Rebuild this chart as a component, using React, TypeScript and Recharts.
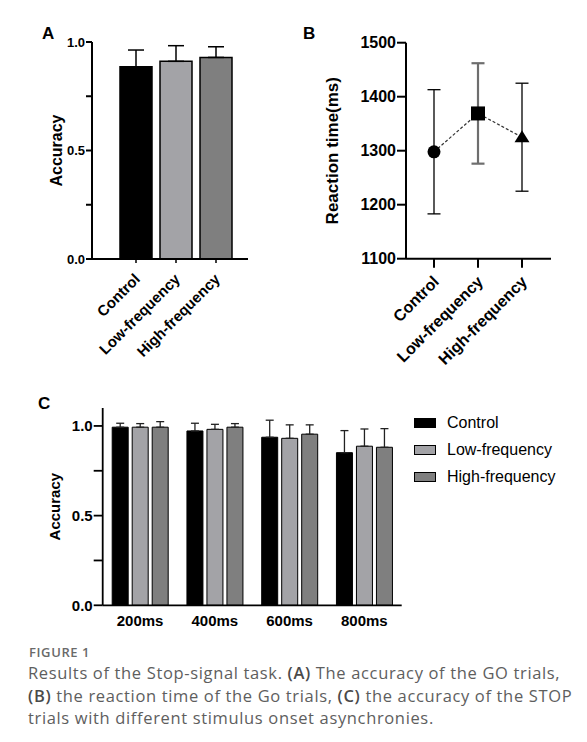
import React from 'react';
import { BarChart, Bar, Cell, XAxis, YAxis, ErrorBar, LineChart, Line } from 'recharts';

// panel A / B: GO trials
const groups = ['Control', 'Low-frequency', 'High-frequency'];
const groupColors = ['#000000', '#a3a3a7', '#7f7f7f'];
const goAccuracy = [0.886, 0.911, 0.929];
const goAccuracyErr = [0.077, 0.072, 0.049];
const goRt = [1298, 1369, 1325];
const goRtErr = [115, 93, 100];

// panel C: STOP trials by SOA
const soaLabels = ['200ms', '400ms', '600ms', '800ms'];
const stopControl = [0.993, 0.972, 0.937, 0.851];
const stopControlErr = [0.022, 0.043, 0.095, 0.123];
const stopLow = [0.993, 0.981, 0.931, 0.887];
const stopLowErr = [0.02, 0.028, 0.075, 0.096];
const stopHigh = [0.993, 0.993, 0.954, 0.881];
const stopHighErr = [0.031, 0.02, 0.052, 0.104];

const accTicks = [0, 0.25, 0.5, 0.75, 1];
const rtTicks = [1100, 1200, 1300, 1400, 1500];

const FONT = '"Liberation Sans", Arial, sans-serif';
const CAPTION_FONT = '"Open Sans", sans-serif';

const accFormat = (v: number) => (v === 0.25 || v === 0.75 ? '' : v.toFixed(1));

const SlantTick = (props: any) => {
  const { x, y, payload, size, ox, oy } = props;
  const ax = x + ox;
  const ay = y + oy;
  return (
    <text
      x={ax}
      y={ay}
      transform={`rotate(-45 ${ax} ${ay})`}
      textAnchor="end"
      fontFamily={FONT}
      fontWeight="bold"
      fontSize={size}
      fill="#000"
    >
      {payload.value}
    </text>
  );
};

const markerShapes = ['circle', 'square', 'triangle'];
const renderMarker = (p: any) => {
  const { cx, cy, index } = p;
  const shape = markerShapes[index];
  if (shape === 'circle') return <circle key={`m-${index}`} cx={cx} cy={cy} r={6.5} fill="#000" />;
  if (shape === 'square')
    return <rect key={`m-${index}`} x={cx - 7} y={cy - 7} width={14} height={14} fill="#000" />;
  return (
    <polygon
      key={`m-${index}`}
      points={`${cx},${cy - 7} ${cx + 7.5},${cy + 5} ${cx - 7.5},${cy + 5}`}
      fill="#000"
    />
  );
};

function PanelA() {
  const data = groups.map((g, i) => ({
    name: g,
    acc: goAccuracy[i],
    err: [0, goAccuracyErr[i]],
  }));
  return (
    <BarChart width={260} height={360} data={data} margin={{ top: 42, right: 12, bottom: 41, left: 0 }} barCategoryGap={4}>
      <XAxis
        dataKey="name"
        height={60}
        interval={0}
        padding={{ left: 24, right: 12 }}
        axisLine={{ stroke: '#000', strokeWidth: 2 }}
        tickLine={{ stroke: '#000', strokeWidth: 1.5 }}
        tickSize={4}
        tickMargin={0}
        tick={(p: any) => <SlantTick {...p} size={15} ox={5} oy={17} />}
      />
      <YAxis
        width={92}
        domain={[0, 1]}
        ticks={accTicks}
        tickFormatter={accFormat}
        axisLine={{ stroke: '#000', strokeWidth: 2 }}
        tickLine={{ stroke: '#000', strokeWidth: 2 }}
        tickSize={6}
        tickMargin={1}
        tick={{ fontSize: 13, fontWeight: 'bold', fill: '#000', fontFamily: FONT }}
        label={{ value: 'Accuracy', angle: -90, position: 'center', dx: 10, fontSize: 16, fontWeight: 'bold', fill: '#000', fontFamily: FONT }}
      />
      <Bar dataKey="acc" stroke="#000" strokeWidth={1.5} isAnimationActive={false}>
        {data.map((d, i) => (
          <Cell key={d.name} fill={groupColors[i]} />
        ))}
        <ErrorBar dataKey="err" direction="y" width={8} stroke="#000" strokeWidth={1.5} />
      </Bar>
    </BarChart>
  );
}

function PanelB() {
  const data = groups.map((g, i) => ({
    name: g,
    rt: goRt[i],
    errDark: i === 1 ? null : goRtErr[i],
    errGray: i === 1 ? goRtErr[i] : null,
  }));
  return (
    <LineChart width={270} height={380} data={data} margin={{ top: 42.7, right: 9, bottom: 51.3, left: 0 }}>
      <XAxis
        dataKey="name"
        height={70}
        interval={0}
        padding={{ left: 28, right: 29 }}
        axisLine={{ stroke: '#000', strokeWidth: 2 }}
        tickLine={{ stroke: '#000', strokeWidth: 2 }}
        tickSize={9}
        tickMargin={0}
        tick={(p: any) => <SlantTick {...p} size={16} ox={6} oy={15} />}
      />
      <YAxis
        width={116}
        domain={[1100, 1500]}
        ticks={rtTicks}
        axisLine={{ stroke: '#000', strokeWidth: 2 }}
        tickLine={{ stroke: '#000', strokeWidth: 2 }}
        tickSize={9}
        tickMargin={1}
        tick={{ fontSize: 16, fontWeight: 'bold', fill: '#000', fontFamily: FONT }}
        label={{ value: 'Reaction time(ms)', angle: -90, position: 'center', dx: -16, fontSize: 17, fontWeight: 'bold', fill: '#000', fontFamily: FONT }}
      />
      <Line dataKey="rt" stroke="none" dot={false} activeDot={false} isAnimationActive={false}>
        <ErrorBar dataKey="errGray" direction="y" width={6.5} stroke="#6e6e6e" strokeWidth={2.2} />
      </Line>
      <Line
        dataKey="rt"
        stroke="#333"
        strokeWidth={1.2}
        strokeDasharray="3 2"
        dot={renderMarker}
        activeDot={false}
        isAnimationActive={false}
      >
        <ErrorBar dataKey="errDark" direction="y" width={6.5} stroke="#000" strokeWidth={1.3} />
      </Line>
    </LineChart>
  );
}

const stopSeries = [
  { key: 'control', name: 'Control', values: stopControl, errs: stopControlErr, color: groupColors[0] },
  { key: 'low', name: 'Low-frequency', values: stopLow, errs: stopLowErr, color: groupColors[1] },
  { key: 'high', name: 'High-frequency', values: stopHigh, errs: stopHighErr, color: groupColors[2] },
];

function PanelC() {
  const data = soaLabels.map((s, i) => {
    const row: any = { name: s };
    stopSeries.forEach((ser) => {
      row[ser.key] = ser.values[i];
      row[ser.key + 'Err'] = [0, ser.errs[i]];
    });
    return row;
  });
  return (
    <BarChart width={410} height={260} data={data} margin={{ top: 28, right: 8.3, bottom: 4.7, left: 0 }} barCategoryGap={9.5} barGap={4}>
      <XAxis
        dataKey="name"
        height={30}
        interval={0}
        axisLine={{ stroke: '#000', strokeWidth: 1.8 }}
        tickLine={false}
        tickSize={0}
        tickMargin={10}
        tick={{ fontSize: 15, fontWeight: 'bold', fill: '#000', fontFamily: FONT }}
      />
      <YAxis
        width={102.7}
        domain={[0, 1.1]}
        ticks={accTicks}
        tickFormatter={accFormat}
        axisLine={{ stroke: '#000', strokeWidth: 1.8 }}
        tickLine={{ stroke: '#000', strokeWidth: 1.8 }}
        tickSize={9}
        tickMargin={1}
        tick={{ fontSize: 15, fontWeight: 'bold', fill: '#000', fontFamily: FONT }}
        label={{ value: 'Accuracy', angle: -90, position: 'center', dx: 3.5, fontSize: 15, fontWeight: 'bold', fill: '#000', fontFamily: FONT }}
      />
      {stopSeries.map((ser) => (
        <Bar key={ser.key} dataKey={ser.key} name={ser.name} fill={ser.color} stroke="#000" strokeWidth={1} isAnimationActive={false}>
          <ErrorBar dataKey={ser.key + 'Err'} direction="y" width={4} stroke="#222" strokeWidth={1.3} />
        </Bar>
      ))}
    </BarChart>
  );
}

function LegendC() {
  return (
    <div style={{ position: 'absolute', left: 414, top: 409, fontFamily: FONT }}>
      {stopSeries.map((ser) => (
        <div key={ser.key} style={{ display: 'flex', alignItems: 'center', height: 27 }}>
          <span
            style={{
              display: 'inline-block',
              width: 22,
              height: 10,
              background: ser.color,
              border: '1px solid #000',
              boxSizing: 'border-box',
              marginRight: 11,
            }}
          />
          <span style={{ fontSize: 16, color: '#000' }}>{ser.name}</span>
        </div>
      ))}
    </div>
  );
}

export default function App() {
  return (
    <div style={{ position: 'absolute', left: 0, top: 0, width: 587, height: 742, background: '#fff' }}>
      <div style={{ position: 'absolute', left: 0, top: 0 }}>
        <PanelA />
      </div>
      <div style={{ position: 'absolute', left: 290, top: 0 }}>
        <PanelB />
      </div>
      <div style={{ position: 'absolute', left: 0, top: 380 }}>
        <PanelC />
      </div>
      <LegendC />
      <svg width={587} height={742} style={{ position: 'absolute', left: 0, top: 0, pointerEvents: 'none' }}>
        <g fontFamily={FONT} fontWeight="bold" fontSize={17} fill="#000">
          <text x={42} y={39}>A</text>
          <text x={303} y={39}>B</text>
          <text x={38} y={409}>C</text>
        </g>
        <text x={29} y={657.3} fontFamily={CAPTION_FONT} fontSize={13} fontWeight={600} letterSpacing={0.6} fill="#6a6a6a">
          FIGURE 1
        </text>
        <g fontFamily={CAPTION_FONT} fontSize={16.5} letterSpacing={0.65} fill="#5e5e5e">
          <text x={28} y={679}>
            {'Results of the Stop-signal task. '}
            <tspan fontWeight={600} fill="#4a4a4a">(A)</tspan>
            {' The accuracy of the GO trials,'}
          </text>
          <text x={28} y={701.5}>
            <tspan fontWeight={600} fill="#4a4a4a">(B)</tspan>
            {' the reaction time of the Go trials, '}
            <tspan fontWeight={600} fill="#4a4a4a">(C)</tspan>
            {' the accuracy of the STOP'}
          </text>
          <text x={28} y={724}>trials with different stimulus onset asynchronies.</text>
        </g>
      </svg>
    </div>
  );
}
